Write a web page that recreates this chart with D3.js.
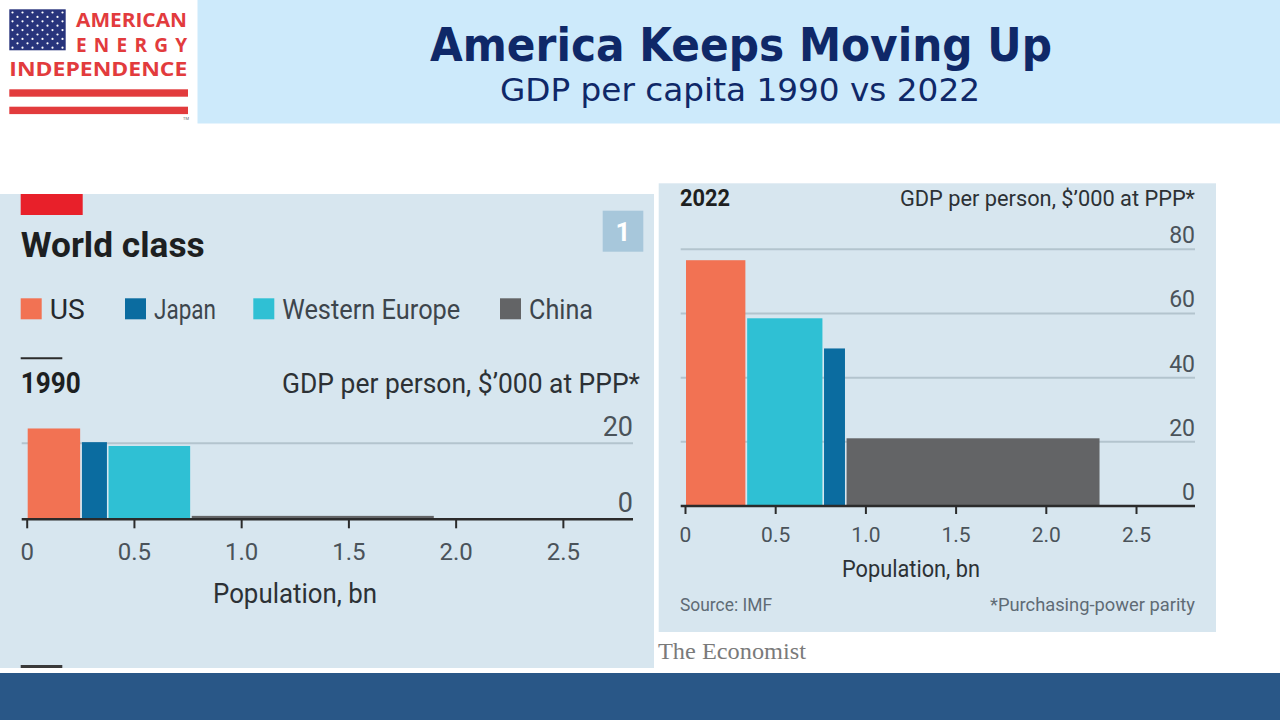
<!DOCTYPE html>
<html>
<head>
<meta charset="utf-8">
<script src="https://cdn.jsdelivr.net/npm/d3@7"></script>
<style>
  html, body { margin: 0; padding: 0; background: #ffffff; }
  svg { display: block; }
</style>
</head>
<body>
<svg id="chart" width="1280" height="720"></svg>
<script>
// ---------------- DATA ----------------
const categories = ["US", "Japan", "Western Europe", "China"];
const pop1990 = [0.252, 0.124, 0.388, 1.136];   // population, bn
const gdp1990 = [23.9, 20.3, 19.3, 0.9];       // GDP per person, $'000 at PPP
const order1990 = ["US", "Japan", "Western Europe", "China"];
const pop2022 = [0.338, 0.125, 0.426, 1.411];
const gdp2022 = [76.6, 49.1, 58.5, 21.1];
const order2022 = ["US", "Western Europe", "Japan", "China"];
const xTickValues = [0, 0.5, 1.0, 1.5, 2.0, 2.5];
const yTicks1990 = [0, 20];
const yTicks2022 = [0, 20, 40, 60, 80];

// ---------------- STYLE ----------------
const COLORS = { "US": "#f27253", "Japan": "#0b6ca0", "Western Europe": "#2fc0d4", "China": "#636466" };
const PANEL = "#d7e6ef";
const GRID = "#b3c4ce";
const INK = "#2c3135";
const SANS = "Roboto, 'Noto Sans', sans-serif";

const svg = d3.select("#chart");

function fit(sel, w, mode) {
  sel.attr("textLength", w).attr("lengthAdjust", mode || "spacingAndGlyphs");
  return sel;
}

// ---------------- HEADER ----------------
svg.append("rect").attr("x", 197.5).attr("y", 0).attr("width", 1082.5).attr("height", 123.5).attr("fill", "#cdeafb");

const title = svg.append("text").attr("x", 741).attr("y", 61).attr("text-anchor", "middle")
  .attr("font-family", "'DejaVu Sans', Verdana, sans-serif").attr("font-weight", "bold")
  .attr("font-size", 46).attr("fill", "#0f2868").text("America Keeps Moving Up");
fit(title, 622);
const sub = svg.append("text").attr("x", 740).attr("y", 101).attr("text-anchor", "middle")
  .attr("font-family", "'DejaVu Sans', Verdana, sans-serif")
  .attr("font-size", 32).attr("fill", "#0f2868").text("GDP per capita 1990 vs 2022");
fit(sub, 480);

// ---------------- LOGO ----------------
const logo = svg.append("g");
logo.append("rect").attr("x", 9.3).attr("y", 9.3).attr("width", 56.4).attr("height", 41).attr("fill", "#28347c");
const starRows = d3.range(9), starCols = d3.range(11);
starRows.forEach(r => starCols.forEach(c => {
  if ((r + c) % 2 === 0) {
    logo.append("circle").attr("cx", 12.5 + c * 5).attr("cy", 12.5 + r * 4.4).attr("r", 1.1).attr("fill", "#ffffff");
  }
}));
const RED = "#e23b3d";
const LOGO_FONT = "'Open Sans', Lato, sans-serif";
fit(logo.append("text").attr("x", 76).attr("y", 27.3).attr("font-family", LOGO_FONT)
  .attr("font-weight", "bold").attr("font-size", 19).attr("fill", RED).text("AMERICAN"), 111);
fit(logo.append("text").attr("x", 76).attr("y", 51.7).attr("font-family", LOGO_FONT)
  .attr("font-weight", "bold").attr("font-size", 19).attr("fill", RED).text("ENERGY"), 111, "spacing");
fit(logo.append("text").attr("x", 9.3).attr("y", 76).attr("font-family", LOGO_FONT)
  .attr("font-weight", "bold").attr("font-size", 19).attr("fill", RED).text("INDEPENDENCE"), 178);
logo.append("rect").attr("x", 9.3).attr("y", 89.3).attr("width", 178.7).attr("height", 7.4).attr("fill", RED);
logo.append("rect").attr("x", 9.3).attr("y", 106.7).attr("width", 178.7).attr("height", 7.4).attr("fill", RED);
logo.append("text").attr("x", 183).attr("y", 120).attr("font-family", SANS).attr("font-size", 4).attr("fill", "#666").text("TM");

// ---------------- BOTTOM BAND ----------------
svg.append("rect").attr("x", 0).attr("y", 673).attr("width", 1280).attr("height", 47).attr("fill", "#295787");

// ---------------- PANEL HELPER ----------------
function drawPanel(cfg) {
  const g = svg.append("g");
  const x = d3.scaleLinear().domain([0, 2.827]).range([cfg.x0, cfg.x1]);
  const y = d3.scaleLinear().domain([0, cfg.yMax]).range([cfg.base, cfg.yTop]);

  // gridlines + y labels
  cfg.yTicks.forEach(t => {
    if (t > 0) {
      g.append("line").attr("x1", cfg.axisStart).attr("x2", cfg.x1)
        .attr("y1", y(t)).attr("y2", y(t)).attr("stroke", GRID).attr("stroke-width", 2);
    }
    g.append("text").attr("x", cfg.x1).attr("y", y(t) - cfg.yLabelOff).attr("text-anchor", "end")
      .attr("font-family", SANS).attr("font-size", cfg.yFont).attr("fill", "#4a535a").text(t);
  });

  // bars (Marimekko-style: width = population, height = GDP per person)
  const data = cfg.order.map(name => {
    const i = categories.indexOf(name);
    return { name, pop: cfg.pop[i], gdp: cfg.gdp[i] };
  });
  let cum = 0;
  data.forEach(d => { d.start = cum; cum += d.pop; d.end = cum; });
  g.selectAll("rect.bar").data(data).join("rect").attr("class", "bar")
    .attr("x", d => x(d.start) + (d.start === 0 ? 1 : 1.2))
    .attr("width", d => x(d.end) - x(d.start) - 1.6)
    .attr("y", d => y(d.gdp))
    .attr("height", d => y(0) - y(d.gdp))
    .attr("fill", d => COLORS[d.name]);

  // x axis
  const axis = d3.axisBottom(x).tickValues(xTickValues)
    .tickFormat(d => d === 0 ? "0" : d3.format(".1f")(d))
    .tickSize(cfg.tickLen).tickPadding(cfg.tickPad);
  const ax = g.append("g").attr("transform", `translate(0,${cfg.base})`).call(axis);
  ax.select(".domain").remove();
  ax.selectAll(".tick line").attr("stroke", "#2b2b2b").attr("stroke-width", 2);
  ax.selectAll(".tick text").attr("font-family", SANS).attr("font-size", cfg.xFont).attr("fill", "#4a535a");
  g.append("line").attr("x1", cfg.axisStart).attr("x2", cfg.x1).attr("y1", cfg.base).attr("y2", cfg.base)
    .attr("stroke", "#2b2b2b").attr("stroke-width", 2.6);

  // axis title
  fit(g.append("text").attr("x", cfg.popX).attr("y", cfg.popY).attr("text-anchor", "middle")
    .attr("font-family", SANS).attr("font-size", cfg.popFont).attr("fill", INK).text("Population, bn"), cfg.popW);
  return g;
}

// ---------------- LEFT PANEL (1990) ----------------
svg.append("rect").attr("x", 0).attr("y", 194).attr("width", 654).attr("height", 474).attr("fill", PANEL);
svg.append("rect").attr("x", 20.7).attr("y", 194).attr("width", 62).attr("height", 21).attr("fill", "#e8202a");
fit(svg.append("text").attr("x", 20.7).attr("y", 256.7).attr("font-family", SANS).attr("font-weight", "bold")
  .attr("font-size", 35).attr("fill", "#1d1f21").text("World class"), 184);
svg.append("rect").attr("x", 602.7).attr("y", 210.7).attr("width", 40.6).attr("height", 41).attr("fill", "#a7c7db");
svg.append("text").attr("x", 623).attr("y", 240.5).attr("text-anchor", "middle").attr("font-family", SANS)
  .attr("font-weight", "bold").attr("font-size", 26).attr("fill", "#ffffff").text("1");

// legend
const legendX = [20.7, 125, 253.3, 500];
const legendW = [35, 62, 178, 64];
categories.forEach((c, i) => {
  svg.append("rect").attr("x", legendX[i]).attr("y", 298.3).attr("width", 21).attr("height", 21).attr("fill", COLORS[c]);
  fit(svg.append("text").attr("x", legendX[i] + 29).attr("y", 318.5).attr("font-family", SANS)
    .attr("font-size", 28).attr("fill", i === 0 ? "#25292d" : "#3d454c").text(c), legendW[i]);
});

svg.append("line").attr("x1", 20.7).attr("x2", 62.3).attr("y1", 358.3).attr("y2", 358.3).attr("stroke", "#2b2b2b").attr("stroke-width", 2);
fit(svg.append("text").attr("x", 20.7).attr("y", 393.3).attr("font-family", SANS).attr("font-weight", "bold")
  .attr("font-size", 29).attr("fill", "#1d1f21").text("1990"), 60);
fit(svg.append("text").attr("x", 640).attr("y", 393).attr("text-anchor", "end").attr("font-family", SANS)
  .attr("font-size", 27).attr("fill", INK).text("GDP per person, $\u2019000 at PPP*"), 358);

drawPanel({
  x0: 26.7, x1: 633, axisStart: 21.7, base: 519.3, yTop: 443.3, yMax: 20,
  yTicks: yTicks1990, yLabelOff: 7, yFont: 27, xFont: 24, tickLen: 9, tickPad: 15,
  order: order1990, pop: pop1990, gdp: gdp1990,
  popX: 295, popY: 603, popFont: 27, popW: 164
});
svg.append("rect").attr("x", 20.7).attr("y", 665).attr("width", 41.6).attr("height", 3).attr("fill", "#3a3a3a");

// ---------------- RIGHT PANEL (2022) ----------------
svg.append("rect").attr("x", 658.7).attr("y", 183.3).attr("width", 557.3).attr("height", 448.7).attr("fill", PANEL);
fit(svg.append("text").attr("x", 680).attr("y", 206).attr("font-family", SANS).attr("font-weight", "bold")
  .attr("font-size", 23).attr("fill", "#1d1f21").text("2022"), 50);
fit(svg.append("text").attr("x", 1195).attr("y", 206).attr("text-anchor", "end").attr("font-family", SANS)
  .attr("font-size", 22).attr("fill", INK).text("GDP per person, $\u2019000 at PPP*"), 295);

drawPanel({
  x0: 685, x1: 1195, axisStart: 680.7, base: 506, yTop: 249.3, yMax: 80,
  yTicks: yTicks2022, yLabelOff: 6, yFont: 23, xFont: 21, tickLen: 8, tickPad: 13,
  order: order2022, pop: pop2022, gdp: gdp2022,
  popX: 911, popY: 577, popFont: 23, popW: 138
});

fit(svg.append("text").attr("x", 680).attr("y", 611).attr("font-family", SANS).attr("font-size", 19)
  .attr("fill", "#5f6b75").text("Source: IMF"), 92);
fit(svg.append("text").attr("x", 1195).attr("y", 611).attr("text-anchor", "end").attr("font-family", SANS)
  .attr("font-size", 19).attr("fill", "#5f6b75").text("*Purchasing-power parity"), 205);
fit(svg.append("text").attr("x", 658).attr("y", 659).attr("font-family", "'Liberation Serif', 'DejaVu Serif', serif")
  .attr("font-size", 23).attr("fill", "#7a7a7a").text("The Economist"), 148);
</script>
</body>
</html>
